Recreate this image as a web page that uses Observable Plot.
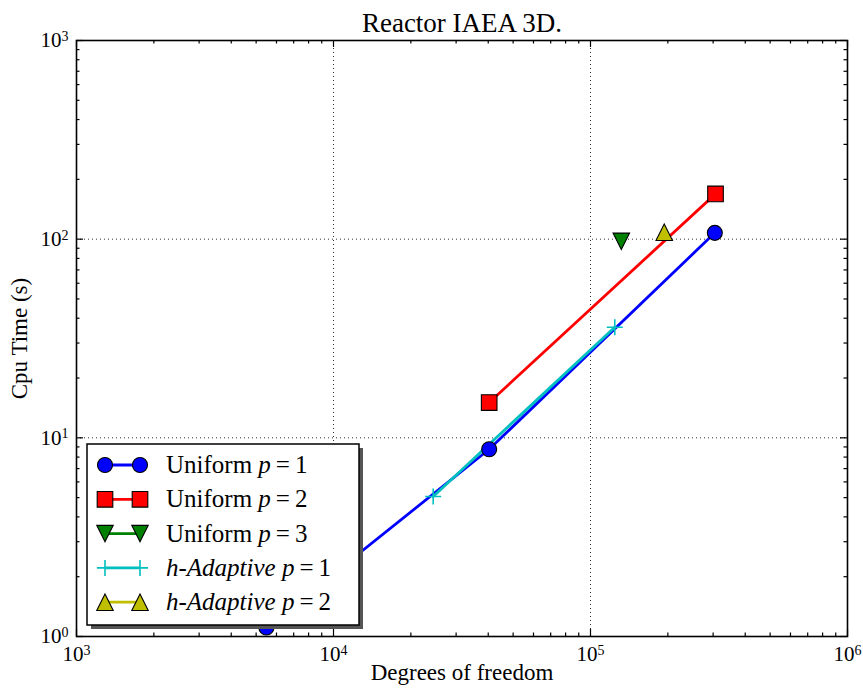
<!DOCTYPE html>
<html><head><meta charset="utf-8">
<script src="https://cdn.jsdelivr.net/npm/d3@7"></script>
<script src="https://cdn.jsdelivr.net/npm/@observablehq/plot@0.6"></script>
<style>body{margin:0;background:#fff}</style>
</head><body><div id="chart"></div>
<script>
// ---- data ----
const title = "Reactor IAEA 3D.";
const xLabel = "Degrees of freedom";
const yLabel = "Cpu Time (s)";
const xTicks = [1e3, 1e4, 1e5, 1e6];
const yTicks = [1, 10, 100, 1000];

const seriesNames = ["Uniform", "Uniform", "Uniform", "h-Adaptive", "h-Adaptive"];
const seriesP = [1, 2, 3, 1, 2];
const seriesColors = ["#0000ff", "#ff0000", "#008000", "#00bfbf", "#bfbf00"];
const seriesSymbols = ["circle", "square", "triangleDown", "plus", "triangleUp"];

const dofU1 = [5480, 40340, 304600];
const cpuU1 = [1.11, 8.76, 107.6];
const dofU2 = [40340, 306500];
const cpuU2 = [15.05, 169];
const dofU3 = [131800];
const cpuU3 = [97.5];
const dofH1 = [24430, 124300];
const cpuH1 = [5.07, 36.0];
const dofH2 = [193600];
const cpuH2 = [108.3];

const seriesDof = [dofU1, dofU2, dofU3, dofH1, dofH2];
const seriesCpu = [cpuU1, cpuU2, cpuU3, cpuH1, cpuH2];

// ---- layout ----
const W = 863, H = 692, ML = 76, MR = 16, MT = 40, MB = 56;
const PW = W - ML - MR, PH = H - MT - MB;
const FONT = "Liberation Serif, Times New Roman, serif";

// ---- symbols ----
const rad = size => Math.sqrt(size / Math.PI);
const SYM = {
  circle: d3.symbolCircle,
  square: {draw(c, size) { const s = rad(size) * 1.04; c.rect(-s, -s, 2 * s, 2 * s); }},
  triangleUp: {draw(c, size) { const s = rad(size) * 1.1; c.moveTo(0, -s); c.lineTo(s, s); c.lineTo(-s, s); c.closePath(); }},
  triangleDown: {draw(c, size) { const s = rad(size) * 1.1; c.moveTo(0, s); c.lineTo(s, -s); c.lineTo(-s, -s); c.closePath(); }},
  plus: {draw(c, size) { const s = rad(size) * 1.07; c.moveTo(-s, 0); c.lineTo(s, 0); c.moveTo(0, -s); c.lineTo(0, s); }}
};
const R = 7.5;

const minorOf = major => {
  const out = [];
  for (let i = 0; i < major.length - 1; i++) for (let k = 2; k <= 9; k++) out.push(major[i] * k);
  return out;
};
const xMinor = minorOf(xTicks), yMinor = minorOf(yTicks);

const seriesData = seriesDof.map((ds, s) => ds.map((d, i) => ({dof: d, cpu: seriesCpu[s][i]})));

const marks = [];
// grid
marks.push(Plot.ruleX(xTicks, {stroke: "#333", strokeWidth: 1, strokeDasharray: "1,3"}));
marks.push(Plot.ruleY(yTicks, {stroke: "#333", strokeWidth: 1, strokeDasharray: "1,3"}));
// lines
seriesData.forEach((data, s) => {
  if (data.length > 1) marks.push(Plot.line(data, {x: "dof", y: "cpu", stroke: seriesColors[s], strokeWidth: 2.8}));
});
// frame
marks.push(Plot.frame({stroke: "black", strokeWidth: 1.6}));
// markers
seriesData.forEach((data, s) => {
  const isPlus = seriesSymbols[s] === "plus";
  marks.push(Plot.dot(data, {
    x: "dof", y: "cpu", r: R, symbol: SYM[seriesSymbols[s]],
    fill: isPlus ? "none" : seriesColors[s],
    stroke: isPlus ? seriesColors[s] : "black",
    strokeWidth: isPlus ? 1.6 : 1.1
  }));
});
// inward ticks
const tk = {stroke: "black", strokeWidth: 1.2};
marks.push(Plot.tickX(xTicks, {x: d => d, insetTop: PH - 7, ...tk}));
marks.push(Plot.tickX(xTicks, {x: d => d, insetBottom: PH - 7, ...tk}));
marks.push(Plot.tickX(xMinor, {x: d => d, insetTop: PH - 3.5, ...tk}));
marks.push(Plot.tickX(xMinor, {x: d => d, insetBottom: PH - 3.5, ...tk}));
marks.push(Plot.tickY(yTicks, {y: d => d, insetRight: PW - 7, ...tk}));
marks.push(Plot.tickY(yTicks, {y: d => d, insetLeft: PW - 7, ...tk}));
marks.push(Plot.tickY(yMinor, {y: d => d, insetRight: PW - 3.5, ...tk}));
marks.push(Plot.tickY(yMinor, {y: d => d, insetLeft: PW - 3.5, ...tk}));
// tick labels
const fmt = d => "10^" + Math.round(Math.log10(d));
marks.push(Plot.axisX(xTicks, {anchor: "bottom", tickSize: 0, tickPadding: 10, tickFormat: fmt, fontSize: 21, label: null}));
marks.push(Plot.axisY(yTicks, {anchor: "left", tickSize: 0, tickPadding: 8, tickFormat: fmt, fontSize: 21, label: null}));
// titles
marks.push(Plot.text([title], {frameAnchor: "top", lineAnchor: "middle", textAnchor: "middle", dy: -17, fontSize: 27, fill: "black"}));
marks.push(Plot.text([xLabel], {frameAnchor: "bottom", lineAnchor: "middle", textAnchor: "middle", dy: 36, fontSize: 23, fill: "black"}));
marks.push(Plot.text([yLabel], {frameAnchor: "left", lineAnchor: "middle", textAnchor: "middle", dx: -57, rotate: -90, fontSize: 23, fill: "black"}));

const chart = Plot.plot({
  width: W, height: H, marginLeft: ML, marginRight: MR, marginTop: MT, marginBottom: MB,
  style: {fontFamily: FONT, background: "white", color: "black", overflow: "visible"},
  x: {type: "log", domain: [xTicks[0], xTicks[xTicks.length - 1]]},
  y: {type: "log", domain: [yTicks[0], yTicks[yTicks.length - 1]]},
  marks
});

const svg = d3.select(chart);
// superscript exponents
svg.selectAll('g[aria-label="x-axis tick label"] text, g[aria-label="y-axis tick label"] text').each(function() {
  const t = d3.select(this);
  const s = this.textContent;
  const m = s.match(/^10\^(-?\d+)$/);
  if (!m) return;
  t.text("");
  t.append("tspan").text("10");
  t.append("tspan").attr("dy", "-0.45em").attr("font-size", 14).text(m[1]);
});

// legend
const LX = ML + 11, LY = MT + 404, LW = 272, LH = 181;
const lg = svg.append("g").attr("font-family", FONT).attr("font-size", 25).attr("text-anchor", "start");
lg.append("rect").attr("x", LX + 4).attr("y", LY + 4).attr("width", LW).attr("height", LH).attr("fill", "#555");
lg.append("rect").attr("x", LX).attr("y", LY).attr("width", LW).attr("height", LH).attr("fill", "white").attr("stroke", "black").attr("stroke-width", 1.5);
seriesNames.forEach((name, s) => {
  const cy = LY + 21 + s * 34.3;
  const x1 = LX + 18, x2 = LX + 53;
  lg.append("line").attr("x1", x1).attr("x2", x2).attr("y1", cy).attr("y2", cy)
    .attr("stroke", seriesColors[s]).attr("stroke-width", 2.8);
  const isPlus = seriesSymbols[s] === "plus";
  [x1, x2].forEach(x => {
    lg.append("path").attr("transform", `translate(${x},${cy})`)
      .attr("d", d3.symbol(SYM[seriesSymbols[s]], Math.PI * R * R)())
      .attr("fill", isPlus ? "none" : seriesColors[s])
      .attr("stroke", isPlus ? seriesColors[s] : "black")
      .attr("stroke-width", isPlus ? 1.6 : 1.1);
  });
  const t = lg.append("text").attr("x", LX + 79).attr("y", cy + 8).attr("fill", "black").attr("text-anchor", "start");
  if (name === "Uniform") t.append("tspan").text(name + " ");
  else t.append("tspan").attr("font-style", "italic").text(name + " ");
  t.append("tspan").attr("font-style", "italic").text("p");
  t.append("tspan").attr("dx", 5).text("=");
  t.append("tspan").attr("dx", 5).text(String(seriesP[s]));
});

document.getElementById("chart").appendChild(chart);
</script>
</body></html>
